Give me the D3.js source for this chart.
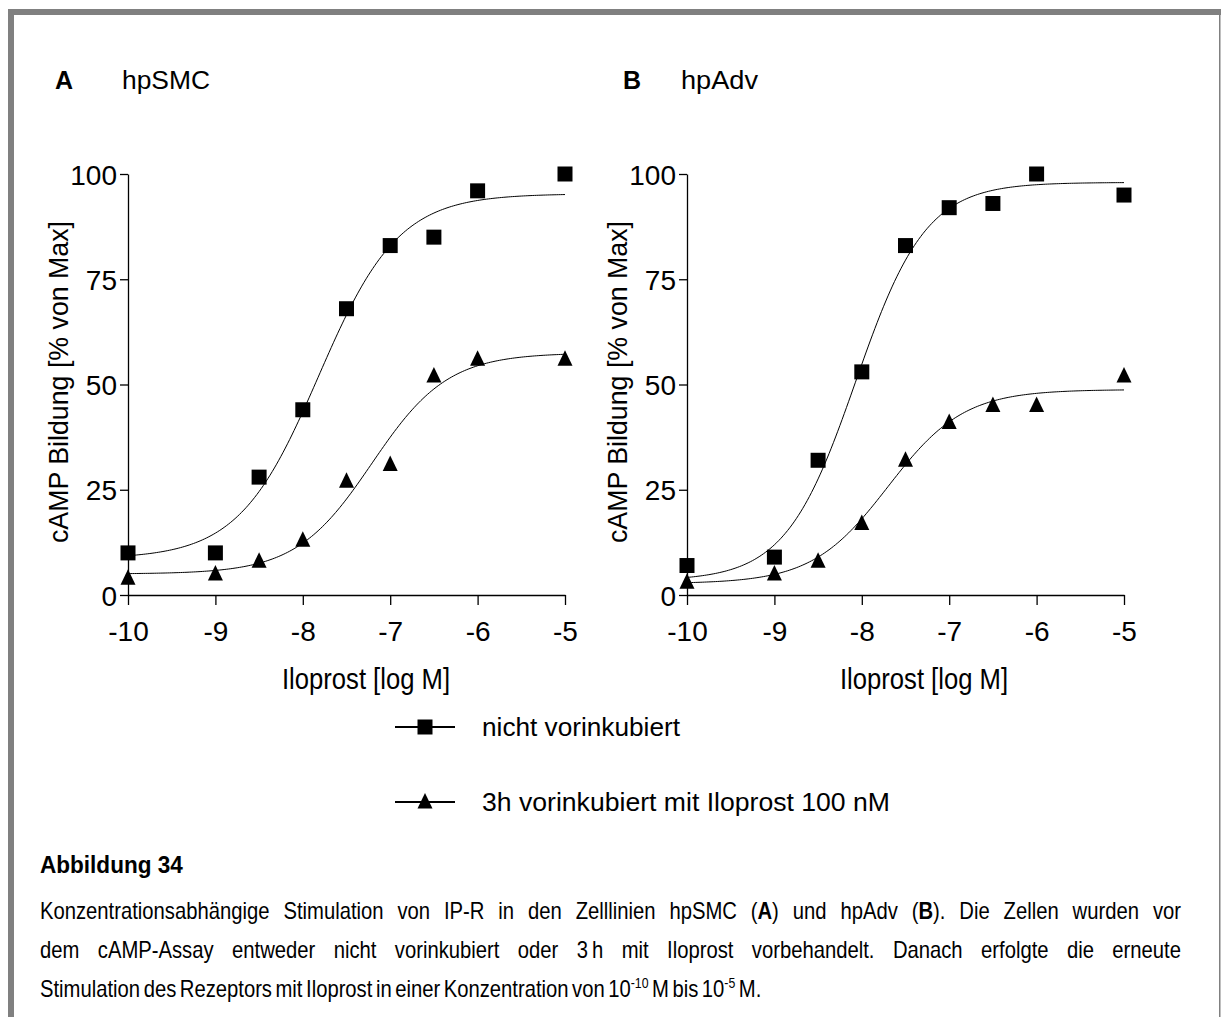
<!DOCTYPE html>
<html><head><meta charset="utf-8">
<script src="https://cdn.jsdelivr.net/npm/d3@7"></script>
<style>
html,body{margin:0;padding:0;background:#fff;}
svg{display:block;font-family:"Liberation Sans",Arial,Helvetica,sans-serif;}
</style></head><body>
<svg id="c" width="1221" height="1017"></svg>
<script>
// ---------- data ----------
const logConc = [-10, -9, -8.5, -8, -7.5, -7, -6.5, -6, -5];
const xTicks = [-10, -9, -8, -7, -6, -5];
const yTicks = [0, 25, 50, 75, 100];
// hpSMC
const smcNicht = [10, 10, 28, 44, 68, 83, 85, 96, 100];
const smcVor   = [4, 5, 8, 13, 27, 31, 52, 56, 56];
// hpAdv
const advNicht = [7, 9, 32, 53, 83, 92, 93, 100, 95];
const advVor   = [3, 5, 8, 17, 32, 41, 45, 45, 52];
// sigmoidal fit parameters: [bottom, top, logEC50, hill]
const smcNichtFit = [8.6, 95.3, -7.82, 0.95];
const smcVorFit   = [5.0, 57.5, -7.21, 1.0];
const advNichtFit = [3.4, 98.0, -8.07, 1.08];
const advVorFit   = [2.7, 48.8, -7.70, 1.0];
const panelLetters = ["A", "B"];
const panelNames = ["hpSMC", "hpAdv"];
const seriesLabels = ["nicht vorinkubiert", "3h vorinkubiert mit Iloprost 100 nM"];
const xTitle = "Iloprost [log M]";
const yTitle = "cAMP Bildung [% von Max]";
const captionTitle = "Abbildung 34";
const captionLines = [
  "Konzentrationsabhängige Stimulation von IP-R in den Zelllinien hpSMC (**A**) und hpAdv (**B**). Die Zellen wurden vor",
  "dem cAMP-Assay entweder nicht vorinkubiert oder 3\u2009h mit Iloprost vorbehandelt. Danach erfolgte die erneute",
  "Stimulation des Rezeptors mit Iloprost in einer Konzentration von 10^-10^ M bis 10^-5^ M."
];

// ---------- drawing ----------
const svg = d3.select("#c");
const gray = "#808080";
// frame
svg.append("rect").attr("x", 8).attr("y", 9).attr("width", 6).attr("height", 1008).attr("fill", gray);
svg.append("rect").attr("x", 8).attr("y", 9).attr("width", 1213).attr("height", 6).attr("fill", gray);
svg.append("rect").attr("x", 1219).attr("y", 9).attr("width", 1.5).attr("height", 1008).attr("fill", gray);

const y = d3.scaleLinear().domain([0, 100]).range([595, 174]);
const panels = [
  {left: 128, right: 565, series: [smcNicht, smcVor], fits: [smcNichtFit, smcVorFit], letterX: 55, nameX: 122, nameW: 88, titleX: 366, yTitleX: 68},
  {left: 687, right: 1124, series: [advNicht, advVor], fits: [advNichtFit, advVorFit], letterX: 623, nameX: 681, nameW: 77, titleX: 924, yTitleX: 627}
];

const squarePath = "M-7.5,-7.5H7.5V7.5H-7.5Z";
const trianglePath = "M0,-9L7.5,6.5L-7.5,6.5Z";
const markerPaths = [squarePath, trianglePath];

function hill(p, x) {
  return p[0] + (p[1] - p[0]) / (1 + Math.pow(10, (p[2] - x) * p[3]));
}

panels.forEach((p, i) => {
  const x = d3.scaleLinear().domain([-10, -5]).range([p.left, p.right]);
  const g = svg.append("g");

  // y axis
  const ya = g.append("g").attr("transform", `translate(${p.left},0)`)
    .call(d3.axisLeft(y).tickValues(yTicks).tickSize(8).tickSizeOuter(0).tickPadding(3).tickFormat(d => String(d)));
  // x axis
  const xa = g.append("g").attr("transform", `translate(0,${y(0)})`)
    .call(d3.axisBottom(x).tickValues(xTicks).tickSize(10).tickSizeOuter(0).tickPadding(16).tickFormat(d => String(d)));
  [ya, xa].forEach(a => {
    a.selectAll("path,line").attr("stroke", "#000").attr("stroke-width", 1.3);
    a.selectAll("text").attr("font-size", 28).attr("fill", "#000").attr("font-family", "Liberation Sans, Arial, sans-serif");
  });
  ya.selectAll("text").attr("dy", "0.36em");

  // curves
  const xs = d3.range(0, 201).map(k => -10 + k * 5 / 200);
  p.fits.forEach(fp => {
    g.append("path")
      .attr("d", d3.line().x(v => x(v)).y(v => y(hill(fp, v)))(xs))
      .attr("fill", "none").attr("stroke", "#000").attr("stroke-width", 1);
  });

  // markers
  p.series.forEach((s, si) => {
    g.selectAll(null).data(s).enter().append("path")
      .attr("d", markerPaths[si])
      .attr("transform", (v, k) => `translate(${x(logConc[k])},${y(v)})`)
      .attr("fill", "#000");
  });

  // panel headings
  svg.append("text").attr("x", p.letterX).attr("y", 89).attr("font-size", 25).attr("font-weight", "bold").text(panelLetters[i]);
  svg.append("text").attr("x", p.nameX).attr("y", 89).attr("font-size", 25)
    .attr("textLength", p.nameW).attr("lengthAdjust", "spacingAndGlyphs").text(panelNames[i]);

  // axis titles
  svg.append("text").attr("x", p.titleX).attr("y", 689).attr("font-size", 29).attr("text-anchor", "middle")
    .attr("textLength", 168).attr("lengthAdjust", "spacingAndGlyphs").text(xTitle);
  svg.append("text").attr("transform", `translate(${p.yTitleX},382) rotate(-90)`).attr("font-size", 28)
    .attr("text-anchor", "middle").attr("textLength", 322).attr("lengthAdjust", "spacingAndGlyphs").text(yTitle);
});

// legend
const legendY = [727, 802];
seriesLabels.forEach((lab, i) => {
  const lg = svg.append("g").attr("transform", `translate(0,${legendY[i]})`);
  lg.append("line").attr("x1", 395).attr("x2", 455).attr("y1", 0).attr("y2", 0).attr("stroke", "#000").attr("stroke-width", 2);
  lg.append("path").attr("d", markerPaths[i]).attr("transform", "translate(425,0)").attr("fill", "#000");
  lg.append("text").attr("x", 482).attr("y", 9).attr("font-size", 26)
    .attr("textLength", i === 0 ? 198 : 408).attr("lengthAdjust", "spacingAndGlyphs").text(lab);
});

// caption
const capFont = 23;
const sx = 0.88;
const capBaselines = [919, 958, 997];
const capLeft = 40, capRight = 1181;
const lastLineGap = 3.5;

function addRich(parent, str) {
  const t = parent.append("text").attr("font-size", capFont).attr("fill", "#000");
  const parts = str.split(/(\*\*[^*]+\*\*|\^[^^]+\^)/).filter(s => s.length);
  parts.forEach(s => {
    if (s.startsWith("**")) {
      t.append("tspan").attr("font-weight", "bold").text(s.slice(2, -2));
    } else if (s.startsWith("^")) {
      t.append("tspan").attr("font-size", Math.round(capFont * 0.6)).attr("dy", -9).text(s.slice(1, -1));
    } else {
      t.append("tspan").text(s);
    }
  });
  return t;
}

// title
svg.append("text").attr("transform", `translate(${capLeft},873) scale(0.94,1)`)
  .attr("font-size", 24).attr("font-weight", "bold").text(captionTitle);

captionLines.forEach((line, li) => {
  const words = line.split(" ");
  const lg = svg.append("g");
  const items = words.map(wd => {
    const g = lg.append("g");
    const t = addRich(g, wd);
    return {g, w: t.node().getComputedTextLength() * sx};
  });
  const total = d3.sum(items, d => d.w);
  const justify = li < captionLines.length - 1;
  const gap = justify ? (capRight - capLeft - total) / (items.length - 1) : lastLineGap;
  let cx = capLeft;
  items.forEach(it => {
    it.g.attr("transform", `translate(${cx},${capBaselines[li]}) scale(${sx},1)`);
    cx += it.w + gap;
  });
});
</script>
</body></html>
